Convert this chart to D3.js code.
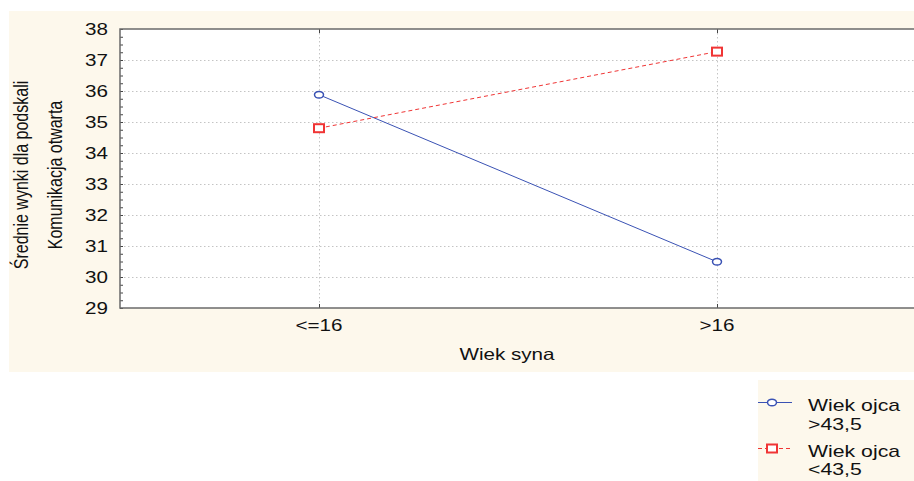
<!DOCTYPE html>
<html><head><meta charset="utf-8">
<script src="https://cdn.jsdelivr.net/npm/d3@7"></script>
<style>
html,body{margin:0;padding:0;background:#fff;}
text{font-family:"Liberation Sans",Arial,sans-serif;fill:#111;}
</style></head>
<body><svg id="chart" width="914" height="481"></svg>
<script>
const categories = ["<=16", ">16"];
const seriesNames = ["Wiek ojca\n>43,5", "Wiek ojca\n<43,5"];
const seriesOld = [35.88, 30.49];    // Wiek ojca >43,5
const seriesYoung = [34.8, 37.27];   // Wiek ojca <43,5
const yTicks = [29, 30, 31, 32, 33, 34, 35, 36, 37, 38];
const yTitle = ["Średnie wynki dla podskali", "Komunikacja otwarta"];
const xTitle = "Wiek syna";

const SX = 1.25; // horizontal stretch of the original picture
const svg = d3.select("#chart");
const cream = "#fdf8ec";
const L = 120, R = 916, T = 29, B = 308;

svg.append("rect").attr("x", 9).attr("y", 11).attr("width", 905).attr("height", 361).attr("fill", cream);
svg.append("rect").attr("x", 758).attr("y", 380).attr("width", 156).attr("height", 101).attr("fill", cream);

const x = d3.scalePoint().domain(categories).range([L, R]).padding(0.5);
const y = d3.scaleLinear().domain([29, 38]).range([B, T]);

svg.append("rect").attr("x", L).attr("y", T).attr("width", R - L).attr("height", B - T).attr("fill", "#fff");

// grid
const grid = svg.append("g").attr("stroke", "#c4c4c4").attr("stroke-dasharray", "1.5,2.5").attr("stroke-width", 1);
grid.selectAll("line.h").data(yTicks.filter(d => d > 29 && d < 38)).join("line")
  .attr("x1", L).attr("x2", R).attr("y1", d => y(d) + 0.5).attr("y2", d => y(d) + 0.5);
grid.selectAll("line.v").data(categories).join("line")
  .attr("x1", d => x(d) + 0.5).attr("x2", d => x(d) + 0.5).attr("y1", T).attr("y2", B);

// minor/major ticks on y axis (inside)
const minor = d3.range(29, 38.001, 0.25);
svg.append("g").selectAll("line").data(minor).join("line")
  .attr("x1", L).attr("x2", L + 3).attr("y1", d => y(d) + 0.5).attr("y2", d => y(d) + 0.5)
  .attr("stroke", "#444");
// x ticks inside at top and bottom
svg.append("g").selectAll("line").data(categories).join("line")
  .attr("x1", d => x(d) + 0.5).attr("x2", d => x(d) + 0.5).attr("y1", B).attr("y2", B - 4).attr("stroke", "#444");
svg.append("g").selectAll("line").data(categories).join("line")
  .attr("x1", d => x(d) + 0.5).attr("x2", d => x(d) + 0.5).attr("y1", T).attr("y2", T + 4).attr("stroke", "#444");

// frame
svg.append("rect").attr("x", L).attr("y", T).attr("width", R - L).attr("height", B - T)
  .attr("fill", "none").attr("stroke", "#6a6a6a").attr("stroke-width", 1.5);

function stext(px, py, str, size, anchor) {
  return svg.append("text").attr("transform", `translate(${px},${py}) scale(${SX},1)`)
    .attr("text-anchor", anchor).style("font-size", size + "px").text(str);
}

// y tick labels
yTicks.forEach(t => stext(108, y(t) + 6, String(t), 16.5, "end"));
// x tick labels
categories.forEach(c => stext(x(c), 331, c, 16.5, "middle"));
// x title
stext(507, 360, xTitle, 16.5, "middle");

// y title (rotated)
[[21, yTitle[0]], [55, yTitle[1]]].forEach(([cx, s]) => {
  svg.append("text").attr("transform", `translate(${cx},175) scale(${SX},1) rotate(-90)`)
    .attr("text-anchor", "middle").attr("dominant-baseline", "central")
    .style("font-size", "16px").text(s);
});

// series
const blue = "#3a52b4", red = "#f03535";
const line = d3.line().x((d, i) => x(categories[i])).y(d => y(d));
svg.append("path").datum(seriesOld).attr("d", line).attr("fill", "none").attr("stroke", blue).attr("stroke-width", 1);
svg.append("path").datum(seriesYoung).attr("d", line).attr("fill", "none").attr("stroke", red).attr("stroke-width", 1).attr("stroke-dasharray", "4,3");

svg.append("g").selectAll("ellipse").data(seriesOld).join("ellipse")
  .attr("cx", (d, i) => x(categories[i])).attr("cy", d => y(d)).attr("rx", 4.5).attr("ry", 3.3)
  .attr("fill", "#fff").attr("stroke", blue).attr("stroke-width", 1.5);
svg.append("g").selectAll("rect").data(seriesYoung).join("rect")
  .attr("x", (d, i) => x(categories[i]) - 5).attr("y", d => y(d) - 4).attr("width", 10).attr("height", 8)
  .attr("fill", "#fff").attr("stroke", red).attr("stroke-width", 2);

// legend
const lg = svg.append("g");
lg.append("line").attr("x1", 758).attr("x2", 792).attr("y1", 402.5).attr("y2", 402.5).attr("stroke", blue);
lg.append("ellipse").attr("cx", 772).attr("cy", 402.5).attr("rx", 4.5).attr("ry", 3.3).attr("fill", "#fff").attr("stroke", blue).attr("stroke-width", 1.5);
lg.append("line").attr("x1", 758).attr("x2", 792).attr("y1", 448.5).attr("y2", 448.5).attr("stroke", red).attr("stroke-dasharray", "4,3");
lg.append("rect").attr("x", 767).attr("y", 444.5).attr("width", 10).attr("height", 8).attr("fill", "#fff").attr("stroke", red).attr("stroke-width", 2);
const lines0 = seriesNames[0].split("\n"), lines1 = seriesNames[1].split("\n");
stext(808, 410.5, lines0[0], 17, "start");
stext(808, 430, lines0[1], 17, "start");
stext(808, 456.5, lines1[0], 17, "start");
stext(808, 475, lines1[1], 17, "start");
</script></body></html>
